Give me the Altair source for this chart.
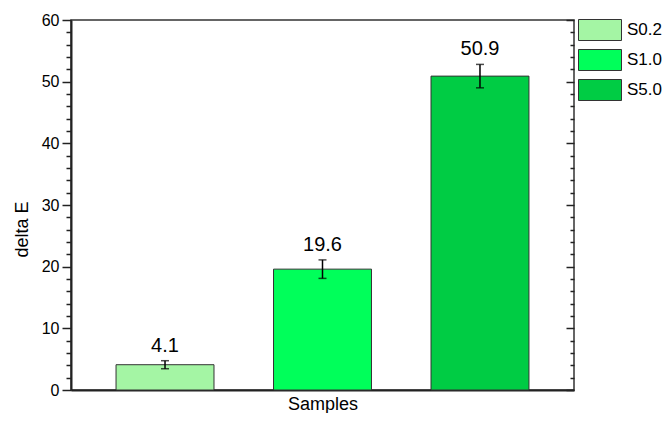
import altair as alt
import pandas as pd

samples = ["S0.2", "S1.0", "S5.0"]
delta_e = [4.1, 19.6, 50.9]
errors = [0.65, 1.5, 1.9]
colors = ["#A4F5A4", "#00FF5A", "#00CC44"]
major_ticks = [0, 10, 20, 30, 40, 50, 60]
minor_ticks = [2, 4, 6, 8, 12, 14, 16, 18, 22, 24, 26, 28, 32, 34, 36, 38,
               42, 44, 46, 48, 52, 54, 56, 58]

df = pd.DataFrame({"sample": samples, "value": delta_e, "err": errors})
df["lower"] = df["value"] - df["err"]
df["upper"] = df["value"] + df["err"]
df["label"] = df["value"].map("{:.1f}".format)

FONT = "Liberation Sans"
yscale = alt.Scale(domain=[0, 60], nice=False, zero=True)
xscale = alt.Scale(paddingInner=0.378, paddingOuter=0.286)

x = alt.X("sample:N", scale=xscale, sort=samples,
          axis=alt.Axis(title="Samples", labels=False, ticks=False,
                        domainWidth=2, domainColor="#222",
                        titleFont=FONT, titleFontSize=18, titleFontWeight="normal",
                        titleColor="black", titlePadding=5))

base = alt.Chart(df)

bars = base.mark_bar(stroke="#333", strokeWidth=1).encode(
    x=x,
    y=alt.Y("value:Q", scale=yscale,
            axis=alt.Axis(orient="left", values=major_ticks, tickSize=9, tickWidth=1.5,
                          tickColor="#222", domainWidth=2, domainColor="#222",
                          grid=False, labelFont=FONT, labelFontSize=16, labelColor="black",
                          labelPadding=3, title="delta E", titleFont=FONT,
                          titleFontSize=18, titleFontWeight="normal", titleColor="black",
                          titlePadding=10, titleY=209)),
    color=alt.Color("sample:N", scale=alt.Scale(domain=samples, range=colors),
                    legend=alt.Legend(title=None, orient="none", legendX=518, legendY=-1,
                                      symbolType="M-2.0476,-1H2.0476V1H-2.0476Z",
                                      symbolSize=441,
                                      symbolStrokeColor="#333", symbolStrokeWidth=1,
                                      symbolOpacity=1, labelFont=FONT, labelFontSize=17,
                                      labelColor="black", labelOffset=16, rowPadding=4,
                                      padding=0)),
)

rules = base.mark_rule(color="black", strokeWidth=1.5).encode(
    x=x,
    y=alt.Y("lower:Q", scale=yscale,
            axis=alt.Axis(orient="left", values=minor_ticks, tickSize=5, tickWidth=1.5,
                          tickColor="#222", domain=False, labels=False, grid=False,
                          title=None)),
    y2="upper:Q",
)

caps_top = base.mark_tick(color="black", size=8, thickness=1.5).encode(
    x=x,
    y=alt.Y("upper:Q", scale=yscale,
            axis=alt.Axis(orient="right", offset=-8, values=major_ticks, tickSize=8,
                          tickWidth=1.5, tickColor="#222", domain=False, labels=False,
                          grid=False, title=None)),
)

caps_bottom = base.mark_tick(color="black", size=8, thickness=1.5).encode(
    x=x,
    y=alt.Y("lower:Q", scale=yscale,
            axis=alt.Axis(orient="right", offset=-4, values=minor_ticks, tickSize=4,
                          tickWidth=1.5, tickColor="#222", domain=False, labels=False,
                          grid=False, title=None)),
)

labels = base.mark_text(baseline="alphabetic", dy=-9, fontSize=20, font=FONT,
                        color="black").encode(
    x=x,
    y=alt.Y("upper:Q", scale=yscale, axis=None),
    text="label:N",
)

chart = alt.layer(bars, rules, caps_top, caps_bottom, labels).resolve_axis(
    y="independent"
).properties(
    width=503, height=370,
    autosize=alt.AutoSizeParams(type="none"),
    padding={"left": 63, "top": 12, "right": 89, "bottom": 23},
).configure_view(stroke="#333", strokeWidth=1.5)

chart.save("out.html", embed_options={"renderer": "svg", "actions": False})
